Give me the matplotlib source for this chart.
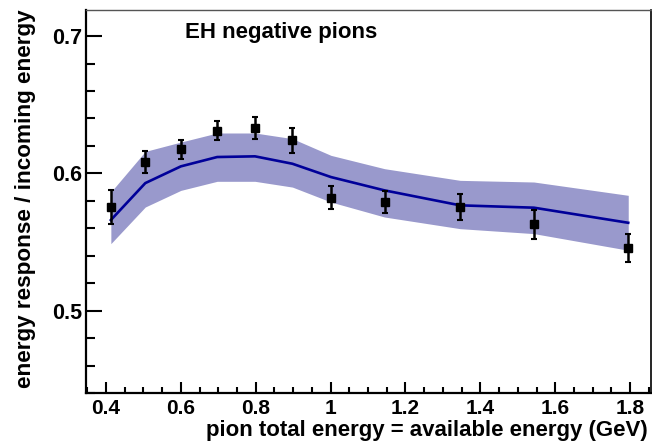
import matplotlib
matplotlib.use("Agg")
import matplotlib.pyplot as plt
from matplotlib.ticker import MultipleLocator, FixedLocator

plt.rcParams['font.family'] = ['Liberation Sans', 'DejaVu Sans']
plt.rcParams['font.weight'] = 'bold'

# data
energy = [0.413, 0.505, 0.600, 0.697, 0.798, 0.898, 1.001, 1.144, 1.346, 1.543, 1.795]
response = [0.5755, 0.6085, 0.6175, 0.6310, 0.6333, 0.6240, 0.5823, 0.5791, 0.5755, 0.5629, 0.5456]
response_err = [0.0125, 0.0080, 0.0070, 0.0070, 0.0080, 0.0090, 0.0083, 0.0077, 0.0097, 0.0105, 0.0103]
model = [0.5660, 0.5929, 0.6051, 0.6119, 0.6124, 0.6070, 0.5973, 0.5876, 0.5767, 0.5750, 0.5640]
model_upper = [0.5864, 0.6160, 0.6228, 0.6294, 0.6294, 0.6253, 0.6131, 0.6034, 0.5949, 0.5937, 0.5840]
model_lower = [0.5488, 0.5755, 0.5876, 0.5942, 0.5942, 0.5900, 0.5791, 0.5682, 0.5597, 0.5561, 0.5440]

xticks = [0.4, 0.6, 0.8, 1.0, 1.2, 1.4, 1.6, 1.8]
xticklabels = ['0.4', '0.6', '0.8', '1', '1.2', '1.4', '1.6', '1.8']
yticks = [0.5, 0.6, 0.7]
yticklabels = ['0.5', '0.6', '0.7']

fig = plt.figure(figsize=(6.52, 4.41), dpi=100)
ax = fig.add_axes([86/652, 1-393/441, (650.7-86)/652, (393-10)/441])

ax.fill_between(energy, model_lower, model_upper, color='#9999cc', lw=0, zorder=1)
ax.plot(energy, model, color='#000099', lw=1.9, zorder=2)
ax.errorbar(energy, response, yerr=response_err, fmt='s', color='black', ms=6,
            elinewidth=1.8, capsize=2, capthick=1.5, zorder=3)

ax.set_xlim(0.3466, 1.855)
ax.set_ylim(0.44, 0.719)

ax.xaxis.set_major_locator(FixedLocator(xticks))
ax.set_xticklabels(xticklabels)
ax.yaxis.set_major_locator(FixedLocator(yticks))
ax.set_yticklabels(yticklabels)
ax.xaxis.set_minor_locator(MultipleLocator(0.05))
ax.yaxis.set_minor_locator(MultipleLocator(0.02))

ax.tick_params(axis='x', which='major', direction='in', length=8, width=1.5, labelsize=15, pad=4, top=False)
ax.tick_params(axis='x', which='minor', direction='in', length=4.3, width=1.5, top=False)
ax.tick_params(axis='y', which='major', direction='in', length=11.5, width=1.5, labelsize=15.5, pad=3, right=False)
ax.tick_params(axis='y', which='minor', direction='in', length=6.5, width=1.5, right=False)
for lab in ax.get_xticklabels() + ax.get_yticklabels():
    lab.set_fontweight('bold')

ax.spines['left'].set_linewidth(1.6)
ax.spines['bottom'].set_linewidth(1.6)
ax.spines['right'].set_linewidth(1.2)
ax.spines['top'].set_linewidth(1.0)
ax.spines['top'].set_color('#555555')

ax.text(0.1755, 0.94, 'EH negative pions', transform=ax.transAxes, fontsize=16,
        fontweight='bold', ha='left', va='center')

fig.text(648/652, 1-436/441, 'pion total energy = available energy (GeV)', fontsize=16,
         fontweight='bold', ha='right', va='baseline')
fig.text(26/652, 1-9/441, 'energy response / incoming energy', fontsize=16.2,
         fontweight='bold', ha='center', va='top', rotation=90)

fig.savefig('out.png', dpi=100)
